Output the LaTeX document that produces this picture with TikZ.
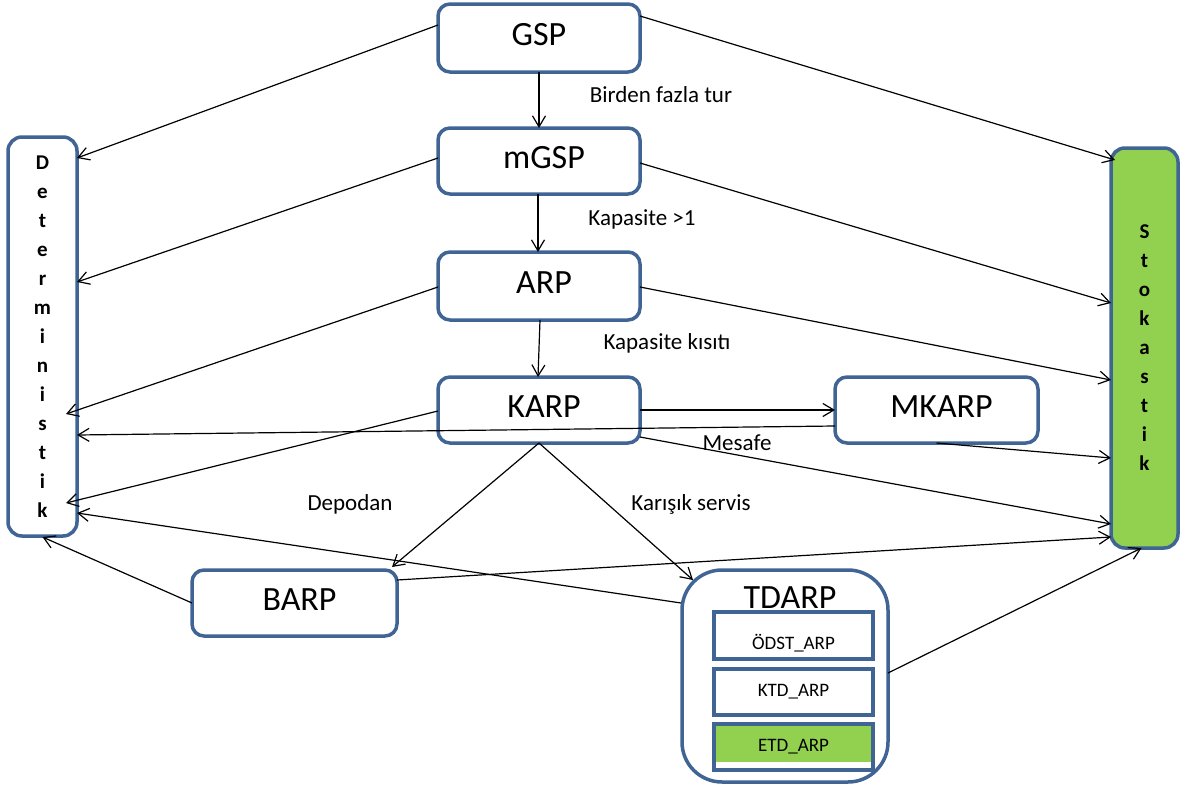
\documentclass[tikz,border=0pt]{standalone}
\usepackage{fontspec}
\setmainfont{Carlito}
\usetikzlibrary{arrows.meta,calc}
\definecolor{boxblue}{RGB}{64,100,148}
\definecolor{boxgreen}{RGB}{146,208,80}
\newcommand{\nudge}{\hspace*{10pt}}
\tikzset{
  box/.style={draw=boxblue, line width=3.5pt, rounded corners=12pt, fill=white,
    outer sep=0pt, inner sep=0pt, align=center},
  titlebox/.style={box, text depth=7pt, font=\fontsize{34}{40}\selectfont},
  subbox/.style={draw=boxblue, line width=3.5pt, fill=white, outer sep=0pt,
    inner sep=0pt, minimum width=159pt, font=\fontsize{19}{23}\selectfont},
  sidebox/.style={box, rounded corners=14pt, font=\fontsize{21}{29}\selectfont\bfseries},
  lbl/.style={inner sep=0pt, font=\fontsize{23}{27}\selectfont},
  arr/.style={line width=1.2pt, -{Straight Barb[length=11pt,width=13pt,line width=1.2pt]}}
}
\begin{document}
\begin{tikzpicture}[x=1pt,y=-1pt]
\useasboundingbox (0,0) rectangle (1187,787);

% problem boxes
\node[titlebox, minimum width=202pt, minimum height=68pt] (gsp)   at (539,38)    {GSP};
\node[titlebox, minimum width=202pt, minimum height=66pt] (mgsp)  at (539,161)   {\nudge mGSP};
\node[titlebox, minimum width=202pt, minimum height=68pt] (arp)   at (539,286)   {\nudge ARP};
\node[titlebox, minimum width=202pt, minimum height=66pt] (karp)  at (539,410)   {\nudge KARP};
\node[titlebox, minimum width=203pt, minimum height=66pt] (mkarp) at (936.5,410) {\nudge MKARP};
\node[titlebox, minimum width=205pt, minimum height=66pt] (barp)  at (294.5,603) {\nudge BARP};

% TDARP with its three variants
\node[box, rounded corners=40pt, minimum width=206pt, minimum height=212pt] (tdarp) at (785,676) {};
\node[lbl, font=\fontsize{34}{40}\selectfont] (tdarptitle) at (790,598) {TDARP};
\node[subbox, minimum height=47pt] (odst) at (793.5,635.5) {};
\node[inner sep=0pt, font=\fontsize{19}{23}\selectfont] (odsttext) at (793.5,643) {ÖDST\_ARP};
\node[subbox, minimum height=46pt] (ktd)  at (793.5,692)   {KTD\_ARP};
\node[subbox, minimum height=46pt, fill=boxgreen] (etd) at (793.5,747) {ETD\_ARP};
\fill[white] ($(etd.south west)+(1.75,-8)$) rectangle ($(etd.south east)+(-1.75,-1.75)$);

% side categories
\node[sidebox, minimum width=69pt, minimum height=399pt] (det) at (42.5,336.5)
  {D\\e\\t\\e\\r\\m\\i\\n\\i\\s\\t\\i\\k};
\node[sidebox, fill=boxgreen, minimum width=67pt, minimum height=400pt] (stok) at (1144.5,348)
  {S\\t\\o\\k\\a\\s\\t\\i\\k};

% edge labels
\node[lbl] (l1) at (661,95)  {Birden fazla tur};
\node[lbl] (l2) at (642,219) {Kapasite >1};
\node[lbl] (l3) at (667,343) {Kapasite kısıtı};
\node[lbl] (l4) at (737,443) {Mesafe};
\node[lbl] (l5) at (350,504) {Depodan};
\node[lbl] (l6) at (691,504) {Karışık servis};

% hierarchy
\draw[arr] (gsp.south) -- (mgsp.north);
\draw[arr] ($(mgsp.south)+(-1,0)$) -- ($(arp.north)+(-1,0)$);
\draw[arr] ($(arp.south)+(1,0)$) -- ($(karp.north)+(-1,0)$);
\draw[arr] (karp.east) -- (mkarp.west);
\draw[arr] (karp.south) -- ($(barp.north east)+(-5,-3)$);
\draw[arr] (karp.south) -- ($(tdarp.north west)+(11,10)$);

% links to the deterministic side
\draw[arr] ($(gsp.west)+(0,-13)$)   -- ($(det.north east)+(0,21)$);
\draw[arr] ($(mgsp.west)+(0,-3)$)   -- ($(det.north east)+(0,145)$);
\draw[arr] ($(arp.west)+(0,1)$)     -- ($(det.north east)+(-11,277)$);
\draw[arr] ($(mkarp.west)+(0,16)$)  -- ($(det.north east)+(0,298)$);
\draw[arr] ($(karp.west)+(0,1)$)    -- ($(det.north east)+(-11,366)$);
\draw[arr] ($(tdarp.west)+(-1,-73)$) -- ($(det.north east)+(0,376)$);
\draw[arr] (barp.west)              -- ($(det.south)+(0,1)$);

% links to the stochastic side
\draw[arr] ($(gsp.east)+(0,-22)$)       -- ($(stok.north west)+(4,12)$);
\draw[arr] ($(mgsp.east)+(0,2)$)        -- ($(stok.north west)+(0,155)$);
\draw[arr] ($(arp.east)+(0,1)$)         -- ($(stok.north west)+(0,232)$);
\draw[arr] (mkarp.south)                -- ($(stok.north west)+(0,310)$);
\draw[arr] ($(karp.south east)+(0,-6)$) -- ($(stok.north west)+(0,376)$);
\draw[arr] ($(barp.east)+(0,-23)$)      -- ($(stok.north west)+(0,389)$);
\draw[arr] ($(tdarp.east)+(0,-3)$)      -- ($(stok.south)+(-3,0)$);
\end{tikzpicture}
\end{document}
